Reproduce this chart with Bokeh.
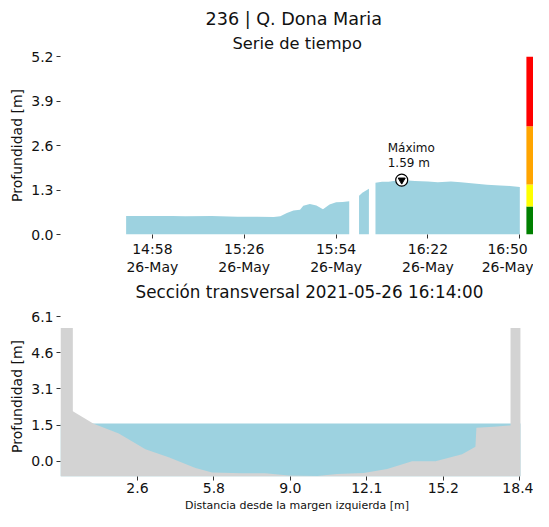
import numpy as np
import pandas as pd
from bokeh.plotting import figure
from bokeh.models import Range1d, FixedTicker, Title
from bokeh.layouts import column
from bokeh.embed import file_html
from bokeh.resources import INLINE
from bokeh.core.properties import value

# ---------------- data ----------------
STATION = "236 | Q. Dona Maria"
SERIES_TITLE = "Serie de tiempo"
SECTION_TITLE = "Sección transversal 2021-05-26 16:14:00"
DATE = "2021-05-26"
Y_LABEL = "Profundidad [m]"
X_LABEL_SECTION = "Distancia desde la margen izquierda [m]"
MAX_LABEL = "Máximo"

times = ["14:50", "14:58", "15:04", "15:08", "15:16", "15:24", "15:30", "15:35",
         "15:37", "15:39", "15:41", "15:43", "15:44", "15:46", "15:48", "15:50",
         "15:52", "15:54", "15:56", "15:58", "15:59", "16:01", "16:02", "16:04",
         "16:05", "16:06", "16:08", "16:10", "16:12", "16:14", "16:16", "16:18",
         "16:22", "16:25", "16:29", "16:32", "16:36", "16:40", "16:44", "16:47",
         "16:50"]
depth = [0.54, 0.54, 0.54, 0.53, 0.54, 0.52, 0.52, 0.51,
         0.53, 0.63, 0.70, 0.72, 0.84, 0.89, 0.85, 0.74,
         0.88, 0.94, 0.95, 0.97, None, 1.13, 1.22, 1.34,
         None, 1.51, 1.54, 1.54, 1.57, 1.59, 1.58, 1.56,
         1.55, 1.53, 1.55, 1.53, 1.49, 1.45, 1.43, 1.42,
         1.39]

time_window = ["14:30", "16:54:10"]
time_ticks = ["14:58", "15:26", "15:54", "16:22", "16:50"]
time_tick_labels = ["14:58\n26-May", "15:26\n26-May", "15:54\n26-May",
                    "16:22\n26-May", "16:50\n26-May"]
depth_ticks = [0.0, 1.3, 2.6, 3.9, 5.2]
depth_tick_labels = ["0.0", "1.3", "2.6", "3.9", "5.2"]

level_bounds = [0.0, 0.82, 1.46, 3.16, 5.2]
level_colors = ["#008000", "#ffff00", "#ffa500", "#ff0000"]

# cross section
dist = [-0.58, -0.07, -0.07, 0.79, 1.83, 2.93, 3.89, 5.00, 5.69, 6.93, 7.89,
        8.85, 10.03, 10.85, 11.95, 12.92, 13.95, 14.92, 16.02, 16.57, 16.61,
        17.33, 17.95, 18.02, 18.02, 18.43]
ground = [5.62, 5.62, 2.11, 1.58, 1.17, 0.51, 0.17, -0.28, -0.47, -0.50, -0.50,
          -0.60, -0.62, -0.53, -0.49, -0.32, 0.00, 0.00, 0.30, 0.61, 1.41,
          1.46, 1.51, 1.51, 5.62, 5.62]
water_level = 1.59
section_x_window = [-0.58, 18.97]
section_floor = -0.64
section_top = 6.1
dist_ticks = [2.6, 5.76, 8.92, 12.08, 15.24, 18.4]
dist_tick_labels = ["2.6", "5.8", "9.0", "12.1", "15.2", "18.4"]
sec_depth_ticks = [0.0, 1.525, 3.05, 4.575, 6.1]
sec_depth_tick_labels = ["0.0", "1.5", "3.1", "4.6", "6.1"]

# ---------------- styling ----------------
FONT = "DejaVu Sans"
WATER = "#9dd2e0"
GROUND = "#d3d3d3"
TEXT = "#111111"


def ms(t):
    return pd.Timestamp(f"{DATE} {t}").value / 1e6


def style_axis(ax, size="14px"):
    ax.axis_line_color = None
    ax.major_tick_line_color = "#333333"
    ax.major_tick_out = 4
    ax.major_tick_in = 0
    ax.minor_tick_line_color = None
    ax.major_label_text_font = FONT
    ax.major_label_text_font_size = size
    ax.major_label_text_color = TEXT
    ax.axis_label_text_font = FONT
    ax.axis_label_text_font_style = "normal"
    ax.axis_label_text_color = TEXT


# ---------------- time series ----------------
t_ms = [ms(t) for t in times]
p1 = figure(frame_width=473, frame_height=178, output_backend="svg",
            toolbar_location=None,
            x_range=Range1d(ms(time_window[0]), ms(time_window[1])),
            y_range=Range1d(level_bounds[0], level_bounds[-1]),
            min_border_left=60, min_border_right=0, min_border_top=56,
            min_border_bottom=0)
p1.outline_line_color = None
p1.xgrid.visible = False
p1.ygrid.visible = False

segments, cur = [], []
for t, d in zip(t_ms, depth):
    if d is None:
        if cur:
            segments.append(cur)
        cur = []
    else:
        cur.append((t, d))
if cur:
    segments.append(cur)
for seg in segments:
    xs = [a for a, _ in seg]
    ys = [b for _, b in seg]
    p1.varea(x=xs, y1=[0] * len(xs), y2=ys, fill_color=WATER)

valid = [(t, d) for t, d in zip(t_ms, depth) if d is not None]
t_max, v_max = max(valid, key=lambda v: v[1])
p1.scatter(x=[t_max], y=[v_max], marker="circle", size=12,
           fill_color="white", line_color="black", line_width=1.2)
p1.scatter(x=[t_max], y=[v_max], marker="inverted_triangle", size=7,
           fill_color="black", line_color="black")
p1.text(x=[t_max], y=[v_max], text=[f"{MAX_LABEL}\n{v_max:.2f} m"],
        x_offset=-14, y_offset=-10, text_align="left", text_baseline="bottom",
        text_font=value(FONT), text_font_size="12px", text_line_height=1.05,
        text_color=TEXT)

# level colour bar on the right edge
p1.extra_x_ranges = {"bar": Range1d(0, 1)}
p1.quad(left=[0.985] * 4, right=[1.0] * 4, bottom=level_bounds[:-1],
        top=level_bounds[1:], fill_color=level_colors, line_color=None,
        x_range_name="bar")

p1.xaxis.ticker = FixedTicker(ticks=[ms(t) for t in time_ticks])
p1.xaxis.major_label_overrides = {ms(t): l for t, l in zip(time_ticks, time_tick_labels)}
p1.xaxis.major_label_standoff = 2
p1.yaxis.ticker = FixedTicker(ticks=depth_ticks)
p1.yaxis.major_label_overrides = dict(zip(depth_ticks, depth_tick_labels))
p1.yaxis.axis_label = Y_LABEL
p1.yaxis.axis_label_text_font_size = "14px"
p1.yaxis.axis_label_standoff = 3
p1.yaxis.major_label_standoff = 3
style_axis(p1.xaxis[0])
style_axis(p1.yaxis[0])
p1.xaxis.major_label_text_line_height = 1.15

p1.add_layout(Title(text=SERIES_TITLE, text_font=FONT, text_font_size="16.3px",
                    text_font_style="normal", align="left", offset=172,
                    standoff=7, text_color=TEXT), "above")
p1.add_layout(Title(text=STATION, text_font=FONT, text_font_size="17.6px",
                    text_font_style="normal", align="left", offset=145,
                    standoff=0, text_color=TEXT), "above")
# title of the cross-section, placed under the time axis
p1.add_layout(Title(text=SECTION_TITLE, text_font=FONT, text_font_size="16.8px",
                    text_font_style="normal", align="left", offset=75,
                    standoff=5, text_color=TEXT), "below")

# ---------------- cross section ----------------
p2 = figure(frame_width=473, frame_height=160, output_backend="svg",
            toolbar_location=None,
            x_range=Range1d(section_x_window[0], section_x_window[1]),
            y_range=Range1d(section_floor, section_top),
            min_border_left=60, min_border_right=0, min_border_top=12,
            min_border_bottom=0)
p2.outline_line_color = None
p2.xgrid.visible = False
p2.ygrid.visible = False

p2.varea(x=[dist[0], dist[-1]], y1=[section_floor] * 2, y2=[water_level] * 2,
         fill_color=WATER)
p2.varea(x=dist, y1=[section_floor] * len(dist), y2=ground, fill_color=GROUND)

p2.xaxis.ticker = FixedTicker(ticks=dist_ticks)
p2.xaxis.major_label_overrides = dict(zip(dist_ticks, dist_tick_labels))
p2.xaxis.axis_label = X_LABEL_SECTION
p2.xaxis.axis_label_text_font_size = "11px"
p2.xaxis.axis_label_standoff = 3
p2.xaxis.major_label_standoff = 2
p2.yaxis.ticker = FixedTicker(ticks=sec_depth_ticks)
p2.yaxis.major_label_overrides = dict(zip(sec_depth_ticks, sec_depth_tick_labels))
p2.yaxis.axis_label = Y_LABEL
p2.yaxis.axis_label_text_font_size = "14px"
p2.yaxis.axis_label_standoff = 3
p2.yaxis.major_label_standoff = 3
style_axis(p2.xaxis[0])
style_axis(p2.yaxis[0])

layout = column(p1, p2, spacing=0)
open("out.html", "w").write(file_html(layout, INLINE))
